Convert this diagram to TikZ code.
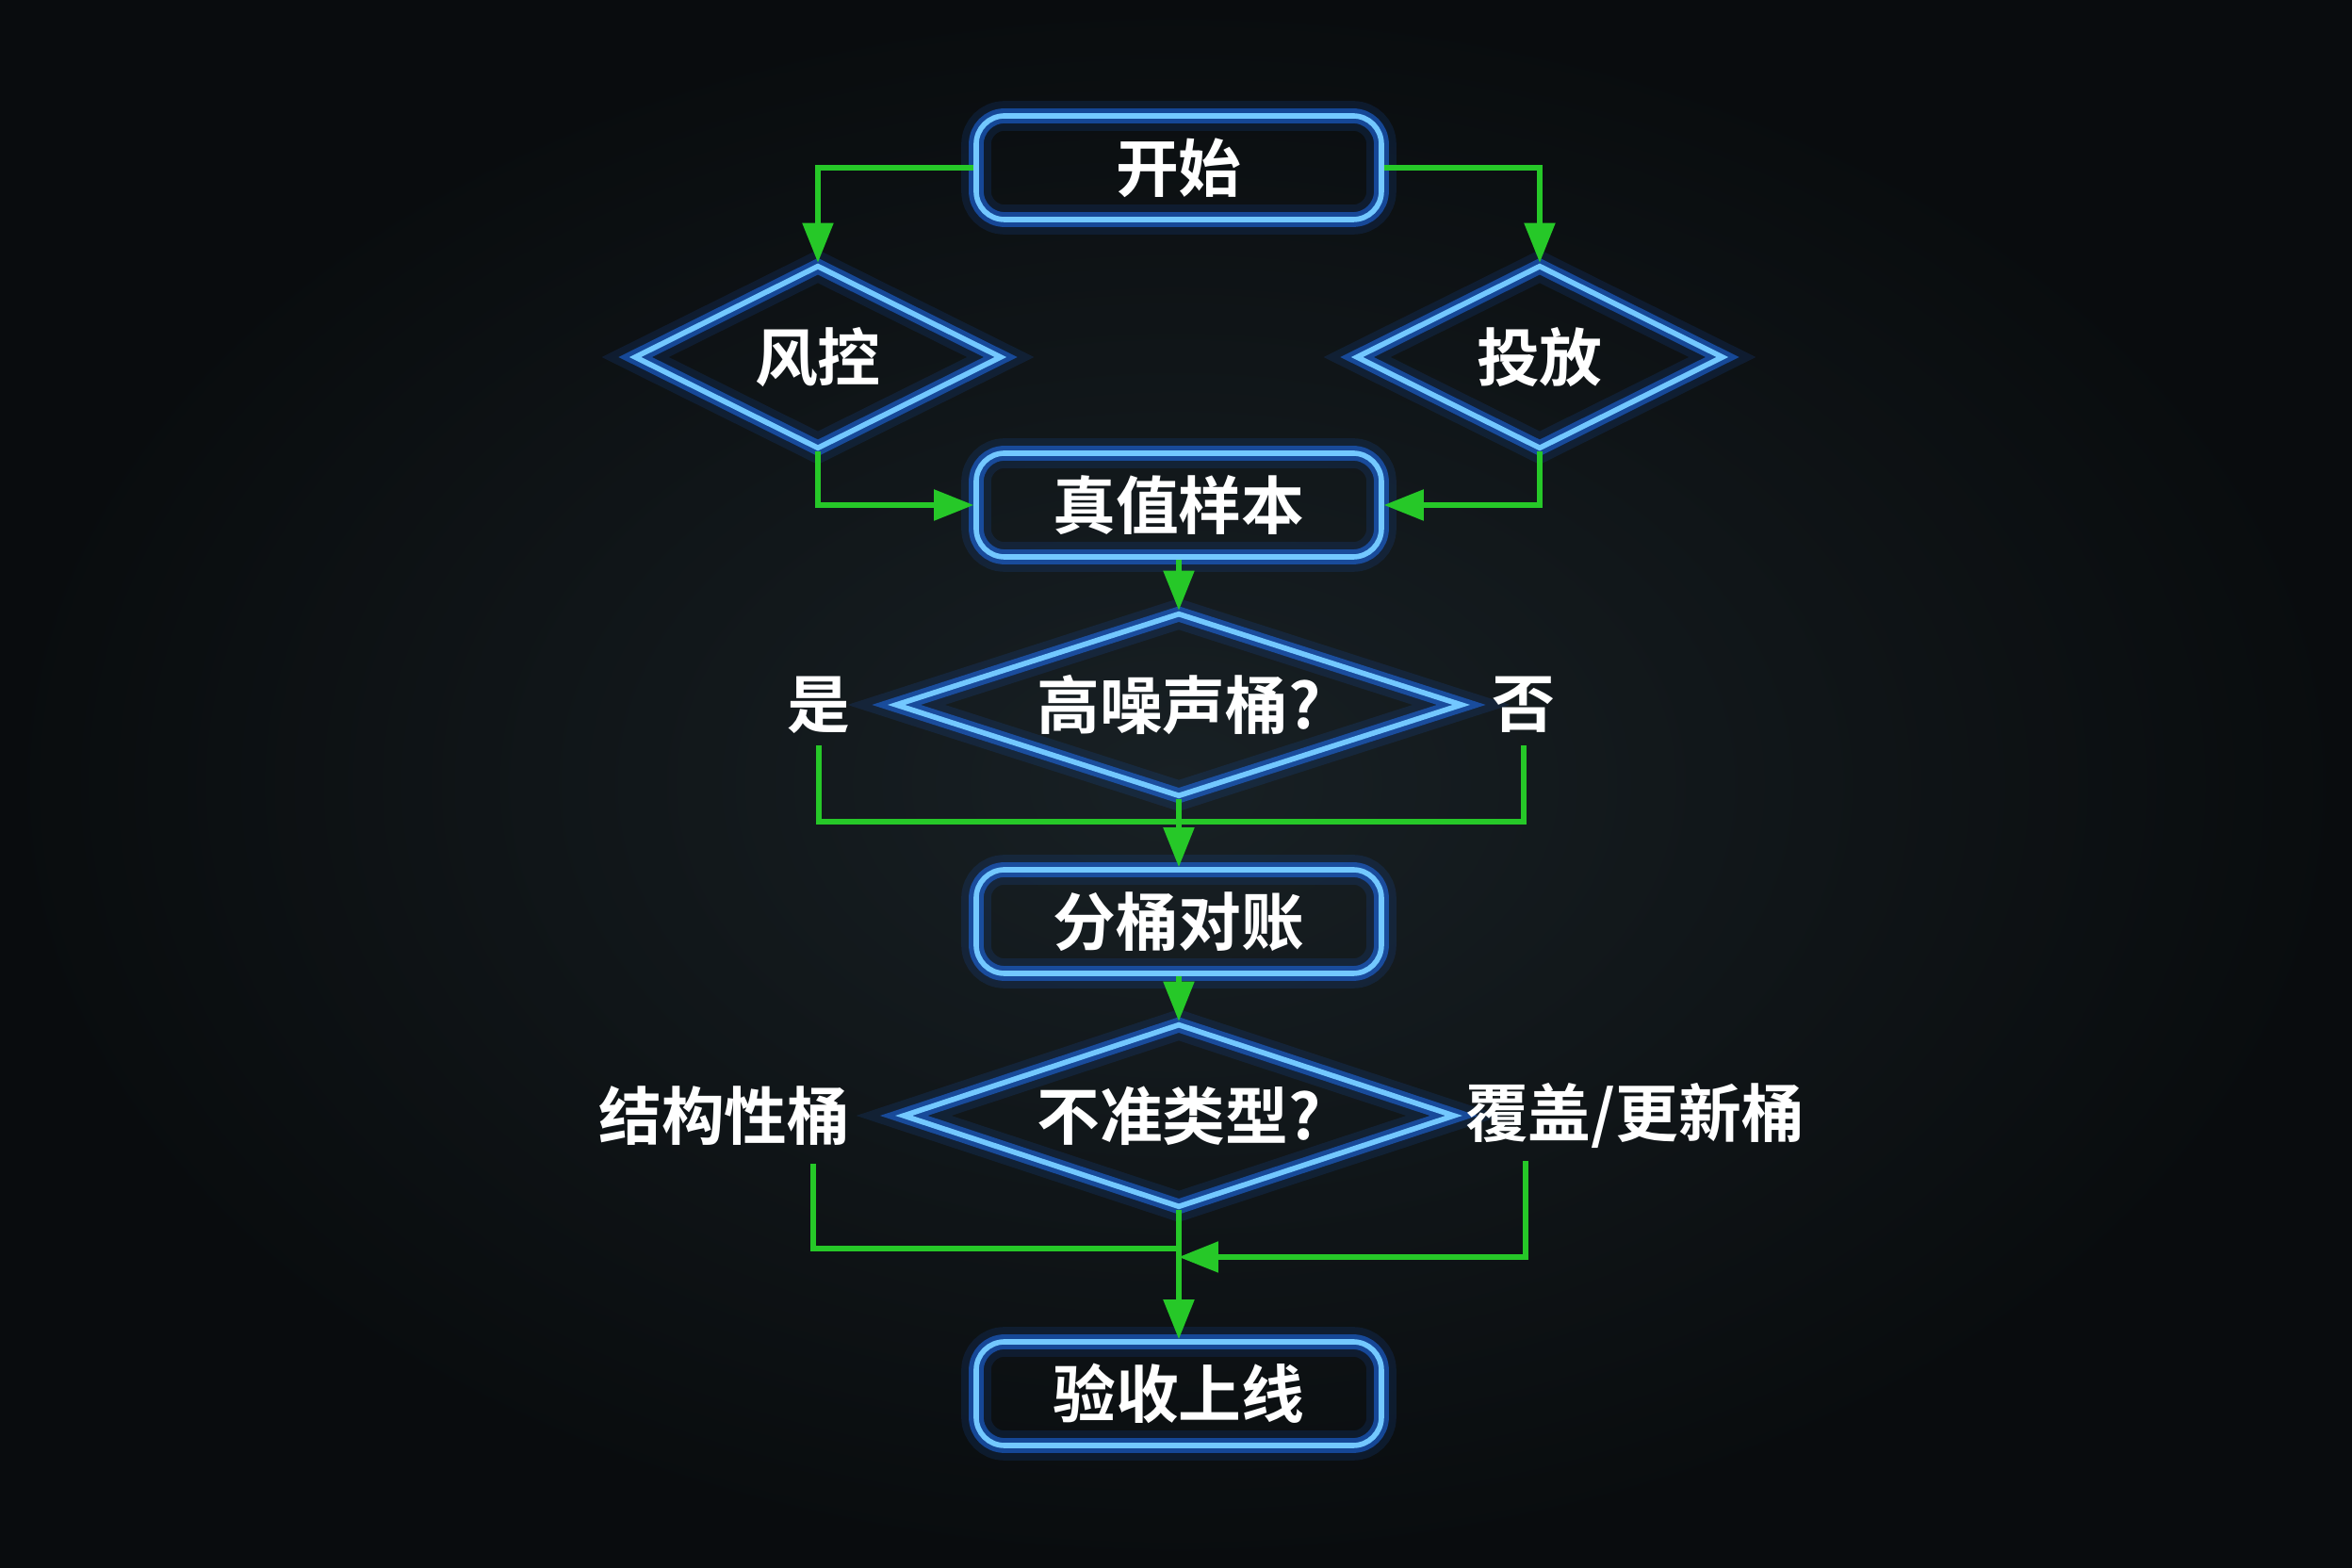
\documentclass[tikz,border=0pt]{standalone}
\usepackage{fontspec}
\setmainfont{Noto Sans CJK SC}[BoldFont={Noto Sans CJK SC Bold}]
\usepackage{xcolor}
\usepackage{tikz}
\usetikzlibrary{shapes.geometric,arrows.meta,positioning,calc}
\definecolor{neonblue}{RGB}{30,115,255}
\definecolor{neonline}{RGB}{115,200,255}
\definecolor{flowgreen}{RGB}{38,200,40}
\definecolor{bgcenter}{RGB}{24,32,36}
\definecolor{bgedge}{RGB}{9,12,14}

\begin{document}
\begin{tikzpicture}[on grid, >={Triangle[width=0.32cm,length=0.42cm]}, thick]
  \tikzstyle{glow} = [preaction={draw=neonblue, line width=9pt, opacity=0.12}, preaction={draw=neonblue, line width=4.5pt, opacity=0.5}, draw=neonline, line width=1.6pt]
  \tikzstyle{stepbox} = [glow, rectangle, rounded corners=0.3cm, minimum width=4.3cm, minimum height=1.1cm, text=white, font=\fontsize{19}{23}\selectfont\bfseries]
  \tikzstyle{choice} = [glow, diamond, inner sep=0pt, minimum height=1.95cm, text=white, font=\fontsize{19}{23}\selectfont\bfseries]
  \tikzstyle{branch} = [text=white, font=\fontsize{19}{23}\selectfont\bfseries]
  \tikzstyle{link} = [draw=flowgreen, line width=1.5pt]

  % background
  \useasboundingbox (-12.51,1.78) rectangle (12.45,-14.86);
  \shade[inner color=bgcenter, outer color=bgedge] (-12.51,1.78) rectangle (12.45,-14.86);

  \node[stepbox] (start) {开始};
  \node[choice, minimum width=3.9cm, aspect=2, below left=2.01cm and 3.83cm of start] (risk) {风控};
  \node[choice, minimum width=3.9cm, aspect=2, below right=2.01cm and 3.83cm of start] (deliver) {投放};
  \node[stepbox, below=3.58cm of start] (truth) {真值样本};

  % noise check
  \node[choice, minimum width=6.02cm, aspect=3, below=2.12cm of truth] (noise) {高噪声桶?};
  \node[branch, left=3.82cm of noise] (yes) {是};
  \node[branch, right=3.66cm of noise] (no) {否};
  \coordinate[below=1.24cm of noise] (noisejoin);

  \node[stepbox, below=2.30cm of noise] (split) {分桶对账};

  % type check
  \node[choice, minimum width=5.86cm, aspect=3, below=2.06cm of split] (kind) {不准类型?};
  \node[branch, left=4.82cm of kind] (structural) {结构性桶};
  \node[branch, right=4.84cm of kind] (coverage) {覆盖/更新桶};
  \coordinate[below right=0.51cm and 0.94cm of structural] (structdrop);
  \coordinate[below left=0.48cm and 1.16cm of coverage] (coverdrop);
  \coordinate[below=1.41cm of kind] (structjoin);
  \coordinate[below=1.50cm of kind] (coverjoin);

  \node[stepbox, below=2.95cm of kind] (launch) {验收上线};

  % links
  \draw[link,->] (start.west) -| (risk.north);
  \draw[link,->] (start.east) -| (deliver.north);
  \draw[link,->] (risk.south) |- (truth.west);
  \draw[link,->] (deliver.south) |- (truth.east);
  \draw[link,->] (truth.south) -- (noise.north);
  \draw[link] (yes.south) |- (noisejoin) -| (no.south);
  \draw[link,->] (noise.south) -- (split.north);
  \draw[link,->] (split.south) -- (kind.north);
  \draw[link] (structdrop) |- (structjoin);
  \draw[link,->] (coverdrop) |- (coverjoin);
  \draw[link,->] (kind.south) -- (launch.north);
\end{tikzpicture}
\end{document}
